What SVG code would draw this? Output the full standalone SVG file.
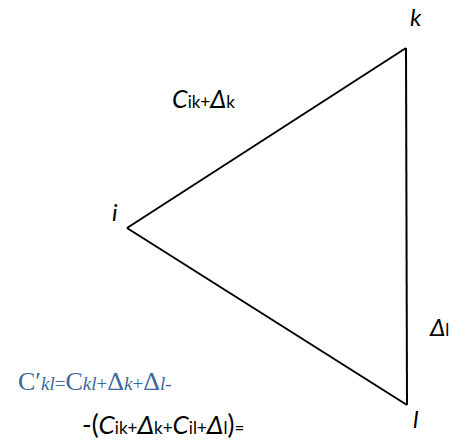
<svg xmlns="http://www.w3.org/2000/svg" width="450" height="441" viewBox="0 0 450 441">
<style>
.lbl{font-family:Lato,'Open Sans','DejaVu Sans',sans-serif;fill:#000}
.it{font-style:italic}
.s{font-size:17px;font-style:normal}
.blue{font-family:'Liberation Serif','DejaVu Serif',serif;fill:#3d67a0}
.bs{font-size:19px;font-style:italic}
.edge{stroke:#000;stroke-width:2;fill:none;stroke-linejoin:miter}
</style>
<rect width="450" height="441" fill="#fff"/>
<g id="connectors">
<line class="edge" x1="127" y1="228" x2="406" y2="48"/>
<line class="edge" x1="406" y1="48" x2="407" y2="405"/>
<line class="edge" x1="407" y1="405" x2="127" y2="228"/>
</g>
<g id="node-k"><text class="lbl it" x="410" y="26" font-size="24">k</text></g>
<g id="node-i"><text class="lbl it" x="112" y="221" font-size="24">i</text></g>
<g id="node-l"><text class="lbl it" x="413" y="428" font-size="24">l</text></g>
<g id="label-ik"><text class="lbl" x="172" y="108" font-size="25"><tspan class="it">C</tspan><tspan class="s">ik+</tspan><tspan class="it">Δ</tspan><tspan class="s">k</tspan></text></g>
<g id="label-l"><text class="lbl" x="430" y="336" font-size="24"><tspan class="it">Δ</tspan><tspan class="s">l</tspan></text></g>
<g id="formula">
<text class="blue" x="18" y="390" font-size="26">C′<tspan class="bs">kl</tspan><tspan font-size="19">=</tspan>C<tspan class="bs">kl</tspan><tspan font-size="19">+</tspan>Δ<tspan class="bs">k</tspan><tspan font-size="19">+</tspan>Δ<tspan class="bs">l</tspan><tspan font-size="19">-</tspan></text>
<text class="lbl" x="82" y="434" font-size="26">-(<tspan class="it">C</tspan><tspan class="s">ik+</tspan><tspan class="it">Δ</tspan><tspan class="s">k+</tspan><tspan class="it">C</tspan><tspan class="s">il+</tspan><tspan class="it">Δ</tspan><tspan class="s">l</tspan>)<tspan class="s">=</tspan></text>
</g>
</svg>
